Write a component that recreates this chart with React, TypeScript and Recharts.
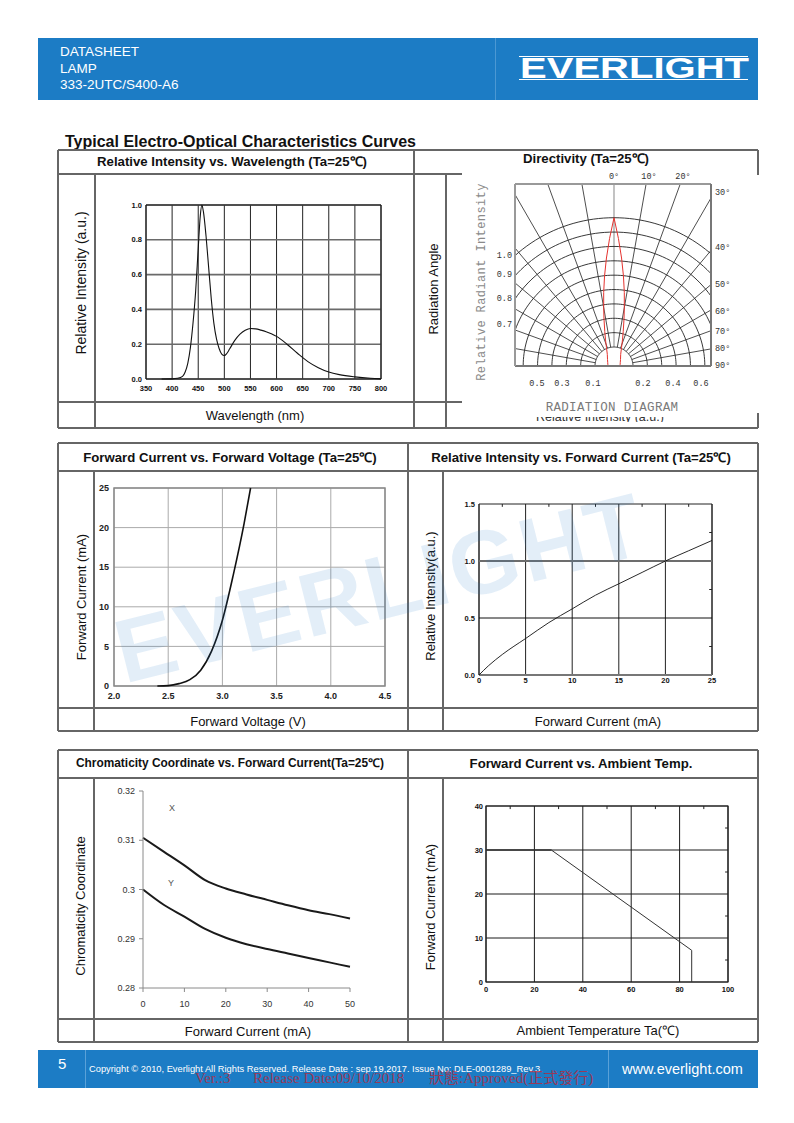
import React from "react";
import { LineChart, Line, XAxis, YAxis, CartesianGrid, ReferenceArea, ReferenceLine } from "recharts";

const SANS = "'Liberation Sans', Arial, Helvetica, sans-serif";
const MONO = "'Liberation Mono', 'DejaVu Sans Mono', monospace";
const SERIF_CJK = "'Liberation Serif', 'Noto Sans CJK TC', serif";
const BLUE = "#1c7cc5";
const RULE = "#666";

// Relative intensity vs. wavelength
const wavelengthNm = [380, 400, 410, 420, 425, 430, 435, 440, 445, 450, 454, 457, 460, 465, 470, 475, 480, 485, 490, 495, 500, 505, 510, 520, 530, 540, 550, 560, 570, 580, 590, 600, 620, 640, 660, 680, 700, 720, 750, 780, 800];
const spectrumIntensity = [0, 0.001, 0.004, 0.015, 0.04, 0.09, 0.18, 0.32, 0.5, 0.75, 0.94, 1.0, 0.96, 0.82, 0.64, 0.46, 0.32, 0.23, 0.175, 0.143, 0.135, 0.148, 0.172, 0.222, 0.258, 0.28, 0.29, 0.288, 0.281, 0.272, 0.26, 0.245, 0.2, 0.148, 0.1, 0.065, 0.04, 0.025, 0.012, 0.004, 0.001];
const wavelengthTicks = [350, 400, 450, 500, 550, 600, 650, 700, 750, 800];
const spectrumTicks = [0, 0.2, 0.4, 0.6, 0.8, 1.0];

// Directivity (radiation diagram)
const beamAngleDeg = [-90, -75, -60, -45, -30, -22, -18, -15, -12, -10, -8, -6, -4, -2, 0, 2, 4, 6, 8, 10, 12, 15, 18, 22, 30, 45, 60, 75, 90];
const beamIntensity = [0.04, 0.043, 0.049, 0.062, 0.09, 0.136, 0.185, 0.24, 0.325, 0.4, 0.5, 0.61, 0.73, 0.86, 1.0, 0.86, 0.73, 0.61, 0.5, 0.4, 0.325, 0.24, 0.185, 0.136, 0.09, 0.062, 0.049, 0.043, 0.04];
const polarRings = [0.1, 0.2, 0.3, 0.4, 0.5, 0.6, 0.7, 0.8, 0.9, 1.0];
const polarSpokesDeg = [-90, -80, -70, -60, -50, -40, -30, -20, -10, 0, 10, 20, 30, 40, 50, 60, 70, 80, 90];

// Forward current vs. forward voltage
const forwardVoltage = [2.4, 2.5, 2.6, 2.7, 2.8, 2.9, 3.0, 3.1, 3.2, 3.26];
const forwardCurrentVf = [0, 0.05, 0.3, 0.8, 2.0, 4.4, 8.3, 14.0, 20.5, 25];
const voltageTicks = [2.0, 2.5, 3.0, 3.5, 4.0, 4.5];
const vfCurrentTicks = [0, 5, 10, 15, 20, 25];

// Relative intensity vs. forward current
const ivCurrent = [0, 1, 2.5, 5, 7.5, 10, 12.5, 15, 17.5, 20, 22.5, 25];
const ivRelative = [0, 0.08, 0.18, 0.32, 0.46, 0.58, 0.7, 0.8, 0.9, 1.0, 1.09, 1.18];
const ivXTicks = [0, 5, 10, 15, 20, 25];
const ivYTicks = [0, 0.5, 1.0, 1.5];
const ivMinorX = [2.5, 7.5, 12.5, 17.5, 22.5];
const ivMinorY = [0.25, 0.75, 1.25];

// Chromaticity coordinate vs. forward current
const chromaCurrent = [0, 5, 10, 15, 20, 25, 30, 35, 40, 45, 50];
const chromaX = [0.3105, 0.3077, 0.3049, 0.3019, 0.3002, 0.299, 0.2979, 0.2968, 0.2958, 0.295, 0.2941];
const chromaY = [0.3, 0.2969, 0.2945, 0.292, 0.2902, 0.2889, 0.2879, 0.287, 0.2861, 0.2852, 0.2843];
const chromaXTicks = [0, 10, 20, 30, 40, 50];
const chromaYTicks = [0.28, 0.29, 0.3, 0.31, 0.32];

// Forward current vs. ambient temperature
const ambientTemp = [0, 27, 85, 85];
const deratedCurrent = [30, 30, 7.2, 0];
const tempTicks = [0, 20, 40, 60, 80, 100];
const taCurrentTicks = [0, 10, 20, 30, 40];
const taMinorX = [10, 30, 50, 70, 90];
const taMinorY = [5, 15, 25, 35];

const spectrumData = wavelengthNm.map((nm, i) => ({ nm, v: spectrumIntensity[i] }));
const vfData = forwardVoltage.map((v, i) => ({ v, i: forwardCurrentVf[i] }));
const ivData = ivCurrent.map((c, i) => ({ c, r: ivRelative[i] }));
const chromaData = chromaCurrent.map((c, i) => ({ c, x: chromaX[i], y: chromaY[i] }));
const taData = ambientTemp.map((t, i) => ({ t, i: deratedCurrent[i] }));

// polar geometry, in units of the outer ring
const POLAR_INNER = 0.128;
const rad = (d: number) => (d * Math.PI) / 180;
const polarPoint = (r: number, deg: number) => ({ x: r * Math.sin(rad(deg)), y: r * Math.cos(rad(deg)) });
const ringRadius = (lvl: number) => POLAR_INNER + ((lvl - 0.1) / 0.9) * (1 - POLAR_INNER);
const arcSteps = Array.from({ length: 91 }, (_, i) => -90 + i * 2);
const lobeData = beamAngleDeg.map((a, i) => polarPoint(beamIntensity[i], a));

type Rect = { x: number; y: number; w: number; h: number };
const P_SPEC: Rect = { x: 146, y: 205, w: 235, h: 174 };
const P_POLAR: Rect = { x: 515, y: 184, w: 196, h: 182 };
const P_VF: Rect = { x: 114, y: 488, w: 271, h: 198 };
const P_IV: Rect = { x: 479, y: 504, w: 233, h: 171 };
const P_CIE: Rect = { x: 143, y: 791, w: 207, h: 197 };
const P_TA: Rect = { x: 486, y: 806, w: 242, h: 176 };

const boldTick = (size: number, fill = "#111") => ({ fontSize: size, fontWeight: 700, fill, fontFamily: SANS });

function Plot({ rect, l = 40, r = 8, t = 8, b = 24, data, children }: any) {
  return (
    <div style={{ position: "absolute", left: rect.x - l, top: rect.y - t }}>
      <LineChart width={rect.w + l + r} height={rect.h + t + b} data={data} margin={{ top: t, right: r, left: 0, bottom: 0 }}>
        {children}
      </LineChart>
    </div>
  );
}

function T({ x, y, children, size = 13, bold = false, anchor = "middle", color = "#111", family = SANS, rotate = 0, style = {} }: any) {
  const tx = anchor === "middle" ? "-50%" : anchor === "end" ? "-100%" : "0";
  return (
    <div
      style={{
        position: "absolute",
        left: x,
        top: y,
        transform: `translate(${tx}, -50%) rotate(${rotate}deg)`,
        whiteSpace: "nowrap",
        fontSize: size,
        fontWeight: bold ? 700 : 400,
        color,
        fontFamily: family,
        lineHeight: 1,
        ...style,
      }}
    >
      {children}
    </div>
  );
}

const H = ({ x1, x2, y, c = RULE, w = 1.3 }: any) => (
  <div style={{ position: "absolute", left: x1, top: y - w / 2, width: x2 - x1, height: w, background: c }} />
);
const V = ({ x, y1, y2, c = RULE, w = 1.3 }: any) => (
  <div style={{ position: "absolute", left: x - w / 2, top: y1, width: w, height: y2 - y1, background: c }} />
);

const lineProps = { dot: false, activeDot: false, isAnimationActive: false };

export default function App() {
  return (
    <div style={{ position: "absolute", left: 0, top: 0, width: 794, height: 1123, background: "#fff", fontFamily: SANS, overflow: "hidden" }}>
      {/* header */}
      <div style={{ position: "absolute", left: 38, top: 38, width: 720, height: 62, background: BLUE }} />
      <V x={495} y1={38} y2={100} c="#4b98d3" w={1} />
      <T x={60} y={52} anchor="start" size={13.5} color="#fff">DATASHEET</T>
      <T x={60} y={69} anchor="start" size={13.5} color="#fff">LAMP</T>
      <T x={60} y={85} anchor="start" size={13.5} color="#fff">333-2UTC/S400-A6</T>
      <div style={{ position: "absolute", left: 519, top: 56, width: 229, height: 24, borderTop: "1px solid #fff", borderBottom: "1px solid #fff", boxSizing: "border-box" }} />
      <div
        style={{
          position: "absolute",
          left: 520,
          top: 57,
          color: "#fff",
          fontFamily: SANS,
          fontWeight: 700,
          fontSize: 29,
          lineHeight: "22px",
          height: 22,
          whiteSpace: "nowrap",
          transform: "scaleX(1.38)",
          transformOrigin: "left center",
        }}
      >
        EVERLIGHT
      </div>

      <T x={65} y={142} anchor="start" size={16} bold>Typical Electro-Optical Characteristics Curves</T>

      {/* section 1 tables */}
      <H x1={58} x2={758} y={150} />
      <V x={58} y1={150} y2={428} />
      <V x={414} y1={150} y2={428} />
      <H x1={58} x2={462} y={174} />
      <H x1={58} x2={462} y={402} />
      <H x1={58} x2={758} y={428} />
      <V x={95} y1={174} y2={428} />
      <V x={446} y1={174} y2={428} />
      <V x={758} y1={150} y2={428} />
      <T x={232} y={162} size={13.2} bold>Relative Intensity vs. Wavelength (Ta=25℃)</T>
      <T x={586} y={159} size={13.2} bold>Directivity (Ta=25℃)</T>
      <T x={81} y={283} size={14} rotate={-90}>Relative Intensity (a.u.)</T>
      <T x={255} y={415} size={13}>Wavelength (nm)</T>
      <T x={433} y={289} size={13} rotate={-90}>Radiation Angle</T>

      <Plot rect={P_SPEC} l={40} b={22} data={spectrumData}>
        <CartesianGrid horizontal={false} stroke="#222" strokeWidth={1} />
        <CartesianGrid vertical={false} stroke="#6a6a6a" strokeWidth={1.6} />
        <XAxis dataKey="nm" type="number" domain={[350, 800]} ticks={wavelengthTicks} interval={0} height={22} axisLine={false} tickLine={false} tickSize={5} tickMargin={2} tick={boldTick(7.5)} />
        <YAxis type="number" domain={[0, 1]} ticks={spectrumTicks} interval={0} width={40} axisLine={false} tickLine={false} tickSize={2} tickMargin={2} tickFormatter={(v: number) => v.toFixed(1)} tick={boldTick(7.5)} />
        <ReferenceArea x1={350} x2={800} y1={0} y2={1} fill="none" stroke="#111" strokeWidth={1} />
        <Line dataKey="v" type="monotone" stroke="#111" strokeWidth={1.1} {...lineProps} />
      </Plot>

      {/* radiation diagram, pasted image area */}
      <div style={{ position: "absolute", left: 462, top: 175, width: 297, height: 238, background: "#fff" }} />
      <div style={{ position: "absolute", left: 536, top: 417, width: 140, height: 5, overflow: "hidden" }}>
        <div style={{ position: "absolute", top: -6.5, left: 0, fontSize: 12.5, lineHeight: 1, fontFamily: SANS, color: "#333", whiteSpace: "nowrap" }}>Relative Intensity (a.u.)</div>
      </div>
      <div style={{ position: "absolute", left: P_POLAR.x, top: P_POLAR.y }}>
        <LineChart width={P_POLAR.w} height={P_POLAR.h} margin={{ top: 0, right: 0, left: 0, bottom: 0 }}>
          <XAxis dataKey="x" type="number" domain={[-0.6676, 0.6541]} allowDataOverflow hide />
          <YAxis type="number" domain={[0, 1.2273]} allowDataOverflow hide />
          {polarSpokesDeg.map((a) => (
            <Line
              key={`s${a}`}
              data={[polarPoint(POLAR_INNER, a), polarPoint(2, a)]}
              dataKey="y"
              type="linear"
              stroke={a === 0 ? "#9a9a9a" : "#3a3a3a"}
              strokeWidth={a === 0 ? 1.2 : 0.9}
              {...lineProps}
            />
          ))}
          {polarRings.map((lvl) => (
            <Line
              key={`r${lvl}`}
              data={arcSteps.map((a) => polarPoint(ringRadius(lvl), a))}
              dataKey="y"
              type="linear"
              stroke="#222"
              strokeWidth={0.9}
              {...lineProps}
            />
          ))}
          <Line data={lobeData} dataKey="y" type="linear" stroke="#e5332f" strokeWidth={1} {...lineProps} />
        </LineChart>
      </div>
      <H x1={515} x2={711} y={184} c="#999" w={1.4} />
      <H x1={515} x2={711} y={366} c="#777" w={1.4} />
      <V x={515} y1={184} y2={366} c="#999" w={1.4} />
      <V x={711} y1={184} y2={366} c="#777" w={1.4} />
      {[["0°", 614], ["10°", 649], ["20°", 683]].map(([s, x]) => (
        <T key={s as string} x={x} y={177} size={8.5} family={MONO} color="#333">{s}</T>
      ))}
      {[["30°", 193], ["40°", 248], ["50°", 285], ["60°", 312], ["70°", 332], ["80°", 349], ["90°", 366]].map(([s, y]) => (
        <T key={s as string} x={715} y={y} anchor="start" size={8.5} family={MONO} color="#333">{s}</T>
      ))}
      {[["1.0", 256], ["0.9", 275], ["0.8", 299], ["0.7", 325]].map(([s, y]) => (
        <T key={s as string} x={512} y={y} anchor="end" size={8.5} family={MONO} color="#333">{s}</T>
      ))}
      {[["0.5", 537], ["0.3", 562], ["0.1", 593], ["0.2", 643], ["0.4", 673], ["0.6", 701]].map(([s, x]) => (
        <T key={s as string} x={x} y={384} size={8.5} family={MONO} color="#333">{s}</T>
      ))}
      <T x={482} y={282} size={12} family={MONO} color="#8a8a8a" rotate={-90} style={{ letterSpacing: 0.4 }}>Relative Radiant Intensity</T>
      <T x={612} y={408} size={12.5} family={MONO} color="#7a7a7a" style={{ letterSpacing: 0.3 }}>RADIATION DIAGRAM</T>

      {/* section 2 tables */}
      <H x1={58} x2={758} y={443} />
      <H x1={58} x2={758} y={471} />
      <H x1={58} x2={758} y={708} />
      <H x1={58} x2={758} y={731} />
      <V x={58} y1={443} y2={731} />
      <V x={408} y1={443} y2={731} />
      <V x={758} y1={443} y2={731} />
      <V x={94} y1={471} y2={731} />
      <V x={443} y1={471} y2={731} />
      <T x={230} y={458} size={13.2} bold>Forward Current vs. Forward Voltage (Ta=25℃)</T>
      <T x={581} y={458} size={13.2} bold>Relative Intensity vs. Forward Current (Ta=25℃)</T>
      <T x={81} y={597} size={13} rotate={-90}>Forward Current (mA)</T>
      <T x={430} y={596} size={13} rotate={-90}>Relative Intensity(a.u.)</T>
      <T x={248} y={721} size={13}>Forward Voltage (V)</T>
      <T x={598} y={721} size={13}>Forward Current (mA)</T>

      <Plot rect={P_VF} l={40} b={22} data={vfData}>
        <CartesianGrid stroke="#aaa" strokeWidth={1} />
        <XAxis dataKey="v" type="number" domain={[2, 4.5]} ticks={voltageTicks} interval={0} height={22} axisLine={false} tickLine={false} tickSize={5} tickMargin={2} tickFormatter={(v: number) => v.toFixed(1)} tick={boldTick(9, "#222")} />
        <YAxis type="number" domain={[0, 25]} ticks={vfCurrentTicks} interval={0} width={40} axisLine={false} tickLine={false} tickSize={2} tickMargin={3} tick={boldTick(9, "#222")} />
        <ReferenceArea x1={2} x2={4.5} y1={0} y2={25} fill="none" stroke="#8a8a8a" strokeWidth={1.5} />
        <Line dataKey="i" type="monotone" stroke="#111" strokeWidth={1.6} {...lineProps} />
      </Plot>

      <Plot rect={P_IV} l={40} b={22} data={ivData}>
        <CartesianGrid horizontal={false} stroke="#222" strokeWidth={1} />
        <ReferenceLine y={0.5} stroke="#111" strokeWidth={1} />
        <ReferenceLine y={1.0} stroke="#6d6d6d" strokeWidth={2} />
        <XAxis dataKey="c" type="number" domain={[0, 25]} ticks={ivXTicks} interval={0} height={22} axisLine={false} tickLine={false} tickSize={2} tickMargin={1} tick={boldTick(7.5)} />
        <YAxis type="number" domain={[0, 1.5]} ticks={ivYTicks} interval={0} width={40} axisLine={false} tickLine={false} tickSize={2} tickMargin={2} tickFormatter={(v: number) => v.toFixed(1)} tick={boldTick(7.5)} />
        <ReferenceArea x1={0} x2={25} y1={0} y2={1.5} fill="none" stroke="#222" strokeWidth={1} />
        <ReferenceLine y={0} stroke="#777" strokeWidth={2} />
        {ivMinorX.map((m) => (
          <ReferenceLine key={`ix${m}`} segment={[{ x: m, y: 1.5 }, { x: m, y: 1.475 }]} stroke="#222" />
        ))}
        {ivMinorY.map((m) => (
          <ReferenceLine key={`iy${m}`} segment={[{ x: 25, y: m }, { x: 24.7, y: m }]} stroke="#222" />
        ))}
        <Line dataKey="r" type="monotone" stroke="#111" strokeWidth={0.9} {...lineProps} />
      </Plot>

      {/* section 3 tables */}
      <H x1={58} x2={758} y={750} />
      <H x1={58} x2={758} y={778} />
      <H x1={58} x2={758} y={1019} />
      <H x1={58} x2={758} y={1042} />
      <V x={58} y1={750} y2={1042} />
      <V x={408} y1={750} y2={1042} />
      <V x={758} y1={750} y2={1042} />
      <V x={94} y1={778} y2={1042} />
      <V x={443} y1={778} y2={1042} />
      <T x={230} y={764} size={11.9} bold>Chromaticity Coordinate vs. Forward Current(Ta=25℃)</T>
      <T x={581} y={764} size={13.2} bold>Forward Current vs. Ambient Temp.</T>
      <T x={80} y={906} size={13} rotate={-90}>Chromaticity Coordinate</T>
      <T x={430} y={907} size={13} rotate={-90}>Forward Current (mA)</T>
      <T x={248} y={1031} size={13}>Forward Current (mA)</T>
      <T x={598} y={1030} size={13}>Ambient Temperature Ta(℃)</T>

      <Plot rect={P_CIE} l={40} b={26} r={10} data={chromaData}>
        <XAxis dataKey="c" type="number" domain={[0, 50]} ticks={chromaXTicks} interval={0} height={26} axisLine={{ stroke: "#8a8a8a" }} tickLine={{ stroke: "#8a8a8a" }} tickSize={4} tickMargin={9} tick={{ fontSize: 9, fill: "#333", fontFamily: SANS }} />
        <YAxis type="number" domain={[0.28, 0.32]} ticks={chromaYTicks} interval={0} width={40} axisLine={{ stroke: "#8a8a8a" }} tickLine={{ stroke: "#8a8a8a" }} tickSize={4} tickMargin={4} tickFormatter={(v: number) => String(Math.round(v * 100) / 100)} tick={{ fontSize: 9, fill: "#333", fontFamily: SANS }} />
        <Line dataKey="x" type="monotone" stroke="#1a1a1a" strokeWidth={2} {...lineProps} />
        <Line dataKey="y" type="monotone" stroke="#1a1a1a" strokeWidth={2} {...lineProps} />
      </Plot>
      <T x={172} y={808} size={9} color="#555">X</T>
      <T x={171} y={883} size={9} color="#555">Y</T>

      <Plot rect={P_TA} l={40} b={22} data={taData}>
        <CartesianGrid stroke="#1a1a1a" strokeWidth={1} />
        <XAxis dataKey="t" type="number" domain={[0, 100]} ticks={tempTicks} interval={0} height={22} axisLine={false} tickLine={false} tickSize={3} tickMargin={2} tick={boldTick(7.5)} />
        <YAxis type="number" domain={[0, 40]} ticks={taCurrentTicks} interval={0} width={40} axisLine={false} tickLine={false} tickSize={1} tickMargin={2} tick={boldTick(7.5)} />
        <ReferenceArea x1={0} x2={100} y1={0} y2={40} fill="none" stroke="#222" strokeWidth={1.2} />
        {taMinorX.map((m) => (
          <ReferenceLine key={`tx${m}`} segment={[{ x: m, y: 40 }, { x: m, y: 39.3 }]} stroke="#222" />
        ))}
        {taMinorY.map((m) => (
          <ReferenceLine key={`ty${m}`} segment={[{ x: 100, y: m }, { x: 98.8, y: m }]} stroke="#222" />
        ))}
        <ReferenceLine segment={[{ x: 0, y: 30 }, { x: 27, y: 30 }]} stroke="#333" strokeWidth={1.2} />
        <Line dataKey="i" type="linear" stroke="#333" strokeWidth={1} {...lineProps} />
      </Plot>

      {/* watermark */}
      <div
        style={{
          position: "absolute",
          left: 380,
          top: 588,
          transform: "translate(-50%, -50%) rotate(-14deg)",
          fontSize: 90,
          fontWeight: 900,
          fontFamily: SANS,
          color: "rgba(40, 125, 200, 0.13)",
          letterSpacing: 3,
          whiteSpace: "nowrap",
          pointerEvents: "none",
          lineHeight: 1,
        }}
      >
        EVERLIGHT
      </div>

      {/* footer */}
      <div style={{ position: "absolute", left: 38, top: 1050, width: 720, height: 38, background: BLUE }} />
      <V x={85} y1={1050} y2={1088} c="#5aa1d8" w={1} />
      <V x={608} y1={1050} y2={1088} c="#5aa1d8" w={1} />
      <T x={58} y={1063} anchor="start" size={15} color="#fff">5</T>
      <T x={89} y={1070} anchor="start" size={9.3} color="#fff">Copyright © 2010, Everlight All Rights Reserved. Release Date : sep.19,2017. Issue No: DLE-0001289_Rev.3</T>
      <T x={622} y={1069} anchor="start" size={14.5} color="#fff">www.everlight.com</T>
      <T x={195} y={1078} anchor="start" size={15} family={SERIF_CJK} color="rgba(185, 40, 60, 0.8)">Ver.:3</T>
      <T x={253} y={1078} anchor="start" size={15} family={SERIF_CJK} color="rgba(185, 40, 60, 0.8)">Release Date:09/10/2018</T>
      <T x={429} y={1078} anchor="start" size={15} family={SERIF_CJK} color="rgba(185, 40, 60, 0.8)">狀態:Approved(正式發行)</T>
    </div>
  );
}
